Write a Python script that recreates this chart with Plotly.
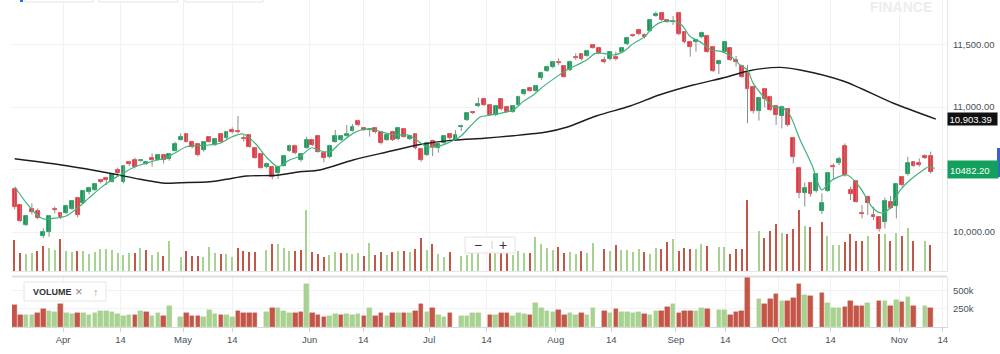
import plotly.graph_objects as go

# ---------------- data ----------------
opens = [10341,10218,10053,10184,10168,9971,9997,10187,10149,10149,
 10181,10272,10229,10317,10336,10416,10429,10403,10493,10397,
 10557,10576,10568,10544,10589,10576,10613,10587,10651,10736,
 10784,10723,10704,10656,10760,10696,10781,10749,10813,10810,
 10755,10773,10672,10621,10523,10523,10469,10531,10651,10691,
 10579,10675,10736,10768,10629,10597,10723,10736,10771,10811,
 10891,10829,10816,10829,10797,10736,10803,10741,10824,10744,
 10784,10661,10616,10731,10669,10709,10781,10736,10837,10896,
 10960,11008,11064,11016,10936,11064,11003,10963,11016,11101,
 11149,11131,11229,11288,11317,11363,11328,11296,11403,11424,
 11411,11496,11475,11373,11381,11397,11437,11501,11579,11619,
 11576,11611,11731,11749,11696,11677,11755,11597,11523,11517,
 11557,11571,11477,11344,11443,11469,11376,11331,11269,11163,
 10971,11144,11083,11008,10931,10984,10755,10515,10315,10389,
 10331,10168,10331,10528,10549,10691,10336,10408,10155,10283,
 10136,10117,10083,10243,10211,10443,10464,10557,10549,10611,
 10608]
highs = [10350,10222,10136,10229,10189,10029,10136,10203,10163,10219,
 10256,10283,10331,10363,10389,10424,10437,10475,10515,10536,
 10571,10595,10581,10568,10629,10624,10621,10632,10723,10790,
 10792,10731,10712,10725,10768,10752,10789,10808,10837,10928,
 10776,10781,10680,10629,10557,10531,10531,10619,10699,10699,
 10629,10763,10744,10776,10637,10699,10816,10776,10856,10864,
 10899,10837,10832,10837,10805,10784,10811,10837,10832,10776,
 10792,10669,10723,10739,10709,10776,10789,10816,10859,10957,
 10968,11075,11072,11024,11016,11072,11011,11016,11091,11144,
 11157,11176,11283,11331,11368,11389,11336,11371,11429,11432,
 11459,11504,11483,11403,11445,11443,11477,11563,11587,11627,
 11589,11704,11763,11757,11704,11728,11763,11605,11531,11544,
 11603,11579,11485,11379,11525,11477,11408,11339,11336,11171,
 11077,11152,11091,11016,11011,10992,10763,10523,10395,10397,
 10469,10309,10483,10549,10603,10709,10363,10416,10216,10291,
 10203,10125,10277,10288,10392,10451,10603,10568,10589,10621,
 10643]
lows = [10181,10082,10048,10141,10104,9952,9962,10149,10104,10144,
 10176,10117,10224,10301,10328,10389,10376,10397,10451,10389,
 10528,10509,10563,10536,10523,10571,10549,10570,10645,10731,
 10717,10669,10605,10643,10715,10688,10715,10741,10789,10789,
 10723,10675,10587,10507,10509,10421,10424,10523,10643,10621,
 10563,10667,10688,10635,10557,10589,10715,10728,10763,10803,
 10845,10808,10763,10789,10701,10728,10728,10733,10755,10736,
 10661,10563,10608,10608,10635,10701,10741,10728,10808,10888,
 10944,11000,11008,10928,10928,10973,10955,10955,11008,11093,
 11123,11123,11216,11280,11309,11336,11235,11288,11376,11373,
 11403,11467,11421,11349,11373,11371,11429,11493,11560,11573,
 11549,11603,11723,11688,11675,11656,11573,11509,11403,11443,
 11549,11435,11280,11264,11435,11368,11323,11235,10869,10949,
 10891,10997,10968,10856,10829,10843,10549,10269,10203,10283,
 10315,10144,10323,10416,10536,10443,10256,10235,10109,10136,
 10096,10003,10029,10181,10109,10363,10451,10523,10523,10584,
 10469]
closes = [10197,10090,10128,10157,10109,10003,10128,10176,10117,10211,
 10245,10133,10325,10349,10381,10400,10416,10464,10472,10531,
 10544,10522,10578,10562,10576,10616,10576,10624,10701,10760,
 10723,10683,10616,10717,10723,10744,10723,10800,10803,10797,
 10744,10683,10595,10515,10541,10437,10523,10611,10691,10629,
 10621,10736,10696,10643,10595,10691,10771,10768,10781,10843,
 10853,10816,10827,10797,10709,10776,10736,10829,10763,10768,
 10669,10576,10715,10677,10701,10768,10749,10776,10851,10949,
 10952,11024,11016,10936,11008,10981,10963,11008,11083,11136,
 11131,11168,11275,11323,11360,11349,11243,11363,11389,11381,
 11451,11475,11429,11360,11437,11381,11469,11555,11568,11581,
 11563,11696,11744,11696,11683,11691,11581,11517,11483,11536,
 11595,11443,11288,11371,11517,11376,11363,11243,11144,10968,
 11069,11061,10976,10936,11003,10856,10603,10315,10349,10304,
 10464,10235,10475,10517,10584,10456,10304,10243,10144,10229,
 10123,10021,10251,10195,10384,10378,10555,10531,10533,10595,
 10482.20]
volume_k = [297,169,163,169,192,243,224,201,307,192,
 179,192,195,163,185,211,211,201,176,153,
 169,169,224,201,153,185,147,291,None,131,
 192,147,147,131,233,176,160,160,131,217,
 192,185,185,None,201,255,259,224,195,195,
 201,580,185,163,131,153,179,169,176,163,
 176,147,265,153,185,153,185,192,192,185,
 211,313,201,259,163,131,185,None,147,153,
 185,185,None,169,169,185,185,153,192,176,
 169,322,259,217,201,227,169,185,163,192,
 169,265,None,211,195,249,201,198,185,208,
 179,163,217,211,275,307,195,217,211,211,
 259,243,None,233,233,160,208,211,680,None,
 380,315,385,450,360,358,400,580,430,419,
 None,468,333,252,252,275,351,288,288,333,
 None,351,356,284,365,338,410,288,None,288,
 252]

ma_short_x = [0, 2.1, 3.9, 5.0, 6.7, 9.0, 10.9, 12.9, 14.9, 16.9,
 18.9, 21.0, 22.9, 24.9, 26.0, 27.9, 30.0, 31.9, 33.9, 35.9,
 38.0, 39.9, 42.0, 43.9, 46.0, 48.0, 49.9, 51.9, 53.3, 55.1,
 56.8, 59.1, 60.9, 62.9, 65.0, 67.0, 68.8, 70.2, 72.0, 73.7,
 75.5, 77.8, 79.5, 81.3, 82.4, 84.8, 87.1, 88.8, 90.6, 92.3,
 94.7, 96.4, 98.2, 99.9, 101.4, 102.8, 104.6, 106.3, 108.1, 110.1,
 111.0, 112.7, 115.0, 116.5, 118.0, 119.7, 121.7, 123.5, 125.2, 126.7,
 128.0, 129.0, 130.8, 132.5, 134.3, 135.4, 137.2, 139.4, 140.1, 141.0,
 142.8, 145.4, 147.6, 149.9, 151.5, 152.9, 154.6, 156.4, 158.7, 159.6,
 160.7]
ma_short_y = [10362, 10229, 10136, 10104, 10109, 10128, 10189, 10269, 10349, 10416,
 10469, 10522, 10549, 10576, 10586, 10630, 10682, 10690, 10696, 10710,
 10762, 10784, 10710, 10602, 10522, 10576, 10608, 10674, 10650, 10642,
 10709, 10789, 10821, 10816, 10789, 10776, 10776, 10736, 10682, 10682,
 10709, 10762, 10842, 10920, 10930, 10949, 10976, 11043, 11096, 11163,
 11243, 11296, 11336, 11376, 11429, 11429, 11416, 11443, 11509, 11563,
 11616, 11675, 11688, 11656, 11563, 11523, 11456, 11443, 11403, 11336,
 11296, 11189, 11083, 11003, 10989, 10936, 10736, 10520, 10416, 10336,
 10416, 10456, 10360, 10192, 10152, 10192, 10330, 10416, 10496, 10522,
 10509]
ma_long_x = [0, 9.1, 16.6, 21.9, 26.3, 28.9, 34.1, 37.0, 40.5, 45.8,
 49.8, 53.3, 59.1, 65.0, 70.8, 76.6, 82.0, 87.1, 92.9, 96.4,
 101.7, 107.5, 112.7, 118.5, 124.4, 128.1, 133.7, 137.2, 144.7, 153.5,
 160.9]
ma_long_y = [10586, 10530, 10470, 10422, 10390, 10394, 10402, 10422, 10448, 10454,
 10482, 10496, 10576, 10640, 10700, 10735, 10750, 10770, 10800, 10838,
 10930, 11008, 11098, 11176, 11240, 11288, 11317, 11296, 11208, 11030,
 10903.39]

tick_pos = [8.46, 18.5, 29.4, 38.0, 51.5, 60.9, 72.4, 82.4, 94.5, 104.2,
 115.5, 124.1, 133.5, 142.5, 154.5, 162.1]
tick_text = ["Apr", "14", "May", "14", "Jun", "14", "Jul", "14", "Aug", "14",
 "Sep", "14", "Oct", "14", "Nov", "14"]
price_ticks = [10000, 11000, 11500]      # labelled price ticks
price_grid = [10000, 10500, 11000, 11500]  # horizontal grid lines
vol_ticks = [250000, 500000]
vol_tick_text = ["250k", "500k"]

# ---------------- styling / geometry ----------------
FONT = "Liberation Sans, Arial, Helvetica, sans-serif"
W, H = 1000, 354
ML, MR, MT, MB = 12, 53, 0, 27
PW, PH = W - ML - MR, H - MT - MB


def pxx(p):
    return (p - ML) / PW


def pxy(p):
    return (PH - (p - MT)) / PH


UP, DOWN = "#0a9f57", "#f0303b"
VUP, VDOWN = "#a8d28f", "#c45648"
idx = list(range(len(closes)))
volumes = [None if v is None else v * 1000 for v in volume_k]

body_col = [UP if c >= o else DOWN for o, c in zip(opens, closes)]
vol_col = []
for i, c in enumerate(closes):
    prev = closes[i - 1] if i > 0 else opens[0]
    vol_col.append(VUP if c >= prev else VDOWN)

fig = go.Figure()

# overlay volume (thin bars inside price panel)
fig.add_trace(go.Bar(x=idx, y=volumes, width=0.25, marker=dict(color=vol_col, line=dict(width=0)),
                     xaxis="x2", yaxis="y3", hoverinfo="skip"))

# wicks
wx, wy = [], []
for i, h, l in zip(idx, highs, lows):
    wx += [i, i, None]
    wy += [l, h, None]
fig.add_trace(go.Scatter(x=wx, y=wy, mode="lines", line=dict(color="#8d8d8d", width=1),
                         xaxis="x2", yaxis="y", hoverinfo="skip"))
# bodies
fig.add_trace(go.Bar(x=idx, y=[abs(c - o) for o, c in zip(opens, closes)],
                     base=[min(o, c) for o, c in zip(opens, closes)], width=0.68,
                     marker=dict(color=body_col, line=dict(color=body_col, width=0.8)),
                     xaxis="x2", yaxis="y", hoverinfo="skip"))
# moving averages
fig.add_trace(go.Scatter(x=ma_long_x, y=ma_long_y, mode="lines",
                         line=dict(color="#1e1e1e", width=1.4, shape="spline", smoothing=0.8),
                         xaxis="x2", yaxis="y", hoverinfo="skip"))
fig.add_trace(go.Scatter(x=ma_short_x, y=ma_short_y, mode="lines",
                         line=dict(color="#41b27a", width=1.2, shape="spline", smoothing=0.8),
                         xaxis="x2", yaxis="y", hoverinfo="skip"))

# volume panel
fig.add_trace(go.Bar(x=idx, y=volumes, width=0.8,
                     marker=dict(color=vol_col, line=dict(color=vol_col, width=0.4)),
                     xaxis="x", yaxis="y2", hoverinfo="skip"))

xr = [(ML - 14.7) / 5.725, (W - MR - 14.7) / 5.725]
grid = "#f1f2f3"
tickfont = dict(family=FONT, size=9.5, color="#4a5057")

fig.update_layout(
    width=W, height=H, margin=dict(l=ML, r=MR, t=MT, b=MB),
    paper_bgcolor="white", plot_bgcolor="white", showlegend=False,
    barmode="overlay", bargap=0, font=dict(family=FONT),
    xaxis=dict(range=xr, tickvals=tick_pos, ticktext=tick_text, anchor="y2",
               showgrid=True, gridcolor=grid, zeroline=False, ticks="outside", ticklen=4,
               tickcolor="#cfd3d6", showline=True, linecolor="#d6d9dc", tickfont=tickfont),
    xaxis2=dict(range=xr, tickvals=tick_pos, matches="x", anchor="y", showticklabels=False,
                showgrid=True, gridcolor=grid, zeroline=False, ticks="", showline=True,
                linecolor="#e4e6e8"),
    yaxis=dict(domain=[pxy(271), 1], range=[9688, 11856], side="right", anchor="x2",
               tickvals=price_ticks, tickformat=",.2f", showgrid=True, gridcolor=grid,
               zeroline=False, ticks="", showline=True, linecolor="#e2e4e6",
               tickfont=tickfont, ticklabelstandoff=3),
    yaxis2=dict(domain=[0, pxy(277)], range=[0, 680000], side="right", anchor="x",
                tickvals=vol_ticks, ticktext=vol_tick_text, showgrid=True, gridcolor=grid,
                zeroline=False, ticks="", showline=True, linecolor="#e2e4e6",
                tickfont=tickfont, ticklabelstandoff=3),
    yaxis3=dict(overlaying="y", anchor="x2", range=[0, 271 * 9580], visible=False),
)

shapes = [
    # price grid line hidden behind the last-price tag
    dict(type="line", xref="paper", yref="y", x0=0, x1=1, y0=price_grid[1], y1=price_grid[1],
         line=dict(color=grid, width=1), layer="below"),
    # panel separator
    dict(type="line", xref="paper", yref="paper", x0=0, x1=1, y0=pxy(276.5), y1=pxy(276.5),
         line=dict(color="#dce0e4", width=2)),
    # zoom buttons box
    dict(type="rect", xref="paper", yref="paper", x0=pxx(465), x1=pxx(515), y0=pxy(253), y1=pxy(237),
         fillcolor="white", line=dict(color="#e2e2e2", width=1)),
    dict(type="line", xref="paper", yref="paper", x0=pxx(492), x1=pxx(492), y0=pxy(249), y1=pxy(241),
         line=dict(color="#cfcfcf", width=1)),
    # volume legend box
    dict(type="rect", xref="paper", yref="paper", x0=pxx(24), x1=pxx(106), y0=pxy(301), y1=pxy(282),
         fillcolor="white", line=dict(color="#e6e6e6", width=1)),
    # right edge blue marker
    dict(type="rect", xref="paper", yref="paper", x0=pxx(997), x1=pxx(1001), y0=pxy(177), y1=pxy(148),
         fillcolor="#3f5bd8", line=dict(width=0)),
    # cut-off toolbar at top
    dict(type="rect", xref="paper", yref="paper", x0=pxx(20), x1=pxx(23), y0=pxy(2), y1=pxy(-5),
         fillcolor="#1a73e8", line=dict(width=0)),
    dict(type="rect", xref="paper", yref="paper", x0=pxx(25), x1=pxx(93), y0=pxy(2), y1=pxy(-10),
         fillcolor="white", line=dict(color="#e4e4e4", width=1)),
    dict(type="rect", xref="paper", yref="paper", x0=pxx(99), x1=pxx(178), y0=pxy(2), y1=pxy(-10),
         fillcolor="white", line=dict(color="#e4e4e4", width=1)),
    dict(type="rect", xref="paper", yref="paper", x0=pxx(185), x1=pxx(263), y0=pxy(2), y1=pxy(-10),
         fillcolor="white", line=dict(color="#e4e4e4", width=1)),
]
fig.update_layout(shapes=shapes)


def ptext(text, x, y, size, color, xanchor="center"):
    return dict(text=text, xref="paper", yref="paper", x=pxx(x), y=pxy(y), xanchor=xanchor,
                yanchor="middle", showarrow=False, font=dict(family=FONT, size=size, color=color))


annotations = [
    ptext("<b>FINANCE</b>", 901, 7, 14, "#ededed"),
    ptext("−", 478, 245, 14, "#333"),
    ptext("+", 503, 245, 14, "#333"),
    ptext("<b>VOLUME</b>", 31, 291.5, 9, "#333", xanchor="left"),
    ptext("×", 79, 291.5, 13, "#8a8a8a"),
    ptext("↑", 96, 291.5, 11, "#9a9a9a"),
    dict(text=f"{ma_long_y[-1]:,.2f}", xref="paper", yref="y", x=1, y=ma_long_y[-1], xanchor="left",
         yanchor="middle", showarrow=False, bgcolor="#111111", width=46, height=9, borderpad=1.5,
         align="left", font=dict(family=FONT, size=9.5, color="white")),
    dict(text=f"{closes[-1]:.2f}", xref="paper", yref="y", x=1, y=closes[-1], xanchor="left",
         yanchor="middle", yshift=2, showarrow=False, bgcolor="#12a05c", width=46, height=13,
         borderpad=2, align="left", valign="bottom",
         font=dict(family=FONT, size=9.5, color="white")),
]
fig.update_layout(annotations=annotations)

fig.write_html("out.html")
